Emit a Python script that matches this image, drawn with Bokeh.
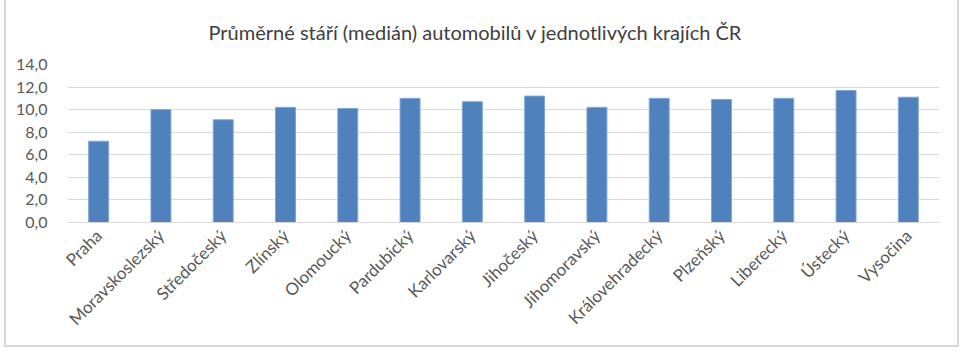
from bokeh.plotting import figure
from bokeh.models import CustomJSTickFormatter, FixedTicker, ColumnDataSource
from bokeh.embed import file_html
from bokeh.resources import INLINE
import math

regions = ["Praha", "Moravskoslezský", "Středočeský", "Zlínský", "Olomoucký",
           "Pardubický", "Karlovarský", "Jihočeský", "Jihomoravský",
           "Královehradecký", "Plzeňský", "Liberecký", "Ústecký", "Vysočina"]
median_age = [7.2, 10.0, 9.1, 10.2, 10.1, 11.0, 10.7, 11.2, 10.2, 11.0, 10.9, 11.0, 11.7, 11.1]
y_ticks = [0, 2, 4, 6, 8, 10, 12, 14]
title_text = "Průměrné stáří (medián) automobilů v jednotlivých krajích ČR"

FONT = "Lato"
GRAY = "#595959"

src = ColumnDataSource(dict(region=regions, age=median_age))

p = figure(x_range=regions, y_range=(0, 14), width=955, height=347,
           output_backend="svg", toolbar_location=None,
           min_border_left=61, min_border_right=22, min_border_top=62,
           min_border_bottom=125, title=title_text)
p.styles = {"margin-left": "4px",
            "border-left": "2px solid #d9d9d9",
            "border-right": "2px solid #d9d9d9",
            "border-bottom": "2px solid #d9d9d9"}
p.title.align = "left"
p.title.offset = 141
p.title.vertical_align = "top"
p.title.standoff = 38
p.title.text_font = FONT
p.title.text_font_size = "20px"
p.title.text_font_style = "normal"
p.title.text_color = "#404040"
p.x_range.range_padding = 0
p.outline_line_color = None

p.vbar(x="region", top="age", width=0.32, source=src,
       fill_color="#4f81bd", line_color="#7ea6d8", line_width=1)

p.xgrid.grid_line_color = None
p.ygrid.grid_line_color = "#d9d9d9"
p.ygrid.grid_line_width = 1
p.yaxis.ticker = FixedTicker(ticks=y_ticks)
p.yaxis.formatter = CustomJSTickFormatter(code="return tick.toFixed(1).replace('.', ',');")
p.yaxis.axis_line_color = None
p.yaxis.major_tick_line_color = None
p.yaxis.minor_tick_line_color = None
p.yaxis.major_label_text_font = FONT
p.yaxis.major_label_text_font_size = "16px"
p.yaxis.major_label_text_color = GRAY
p.yaxis.major_label_standoff = 14

p.xaxis.axis_line_color = "#d9d9d9"
p.xaxis.major_tick_line_color = None
p.xaxis.minor_tick_line_color = None
p.xaxis.major_label_orientation = math.pi / 4
p.xaxis.major_label_text_font = FONT
p.xaxis.major_label_text_font_size = "17px"
p.xaxis.major_label_text_color = GRAY
p.xaxis.major_label_standoff = 4

open("out.html", "w").write(file_html(p, INLINE))
